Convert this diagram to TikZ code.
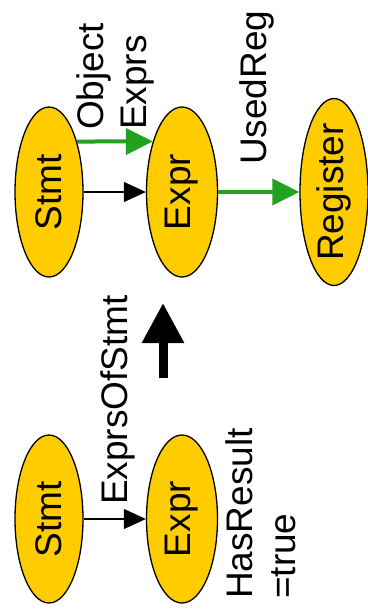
\documentclass[tikz,border=0pt]{standalone}
\usepackage{fontspec}
\setmainfont{Liberation Sans}
\usepackage{graphicx}
\usepackage{tikz}
\usetikzlibrary{arrows.meta,shapes,positioning,shapes.geometric}
\usepackage{xcolor}
\definecolor{gold}{HTML}{FFCC00}
\definecolor{relgreen}{HTML}{22A21E}
\newcommand{\vtxt}[1]{\rotatebox{90}{#1}}
\tikzset{
ent/.style = {ellipse, draw=black, line width=1.3pt, fill=gold, inner sep=-3pt,
minimum width=68pt, minimum height=170pt, font=\fontsize{37}{43}\selectfont},% entite
lbl/.style = {rotate=90, inner sep=0pt, align=left, anchor=base west,
font=\fontsize{37}{43}\selectfont},% etiquette (base = derniere ligne)
rel_k/.style = {black, line width=1.2pt, -{Triangle[length=22pt,width=20pt]}},% relation noire
rel_g/.style = {relgreen, line width=4pt, -{Triangle[length=27pt,width=26pt]}},% relation verte
derive/.style = {black, line width=9pt, -{Triangle[length=40pt,width=40pt]}}% grosse fleche
}
\begin{document}
\begin{tikzpicture}[x=1pt,y=1pt]
  \useasboundingbox (0,0) rectangle (367,-616);
  % haut
  \node [ent] (stmtA) at (49,-192) {\vtxt{Stmt}};
  \node [ent, minimum width=71pt] (exprA) at (182,-192) {\vtxt{Expr}};
  \node [ent, minimum height=187pt] (regA) at (334,-192) {\vtxt{Register}};
  \draw [rel_k] (stmtA) -- (exprA);
  \draw [rel_g] (stmtA.61) -- (exprA.120);
  \draw [rel_g] (exprA) -- (regA);
  \node [lbl] (objLbl) at (146,-130) {Object\\Exprs};
  \node [lbl] (usedLbl) at (266,-165) {UsedReg};
  % fleche
  \coordinate (upFrom) at (163,-378);
  \coordinate (upTo) at (163,-303);
  \draw [derive] (upFrom) -- (upTo);
  % bas
  \node [ent, minimum height=168pt] (stmtB) at (49,-519) {\vtxt{Stmt}};
  \node [ent, minimum width=71pt, minimum height=168pt] (exprB) at (182,-519) {\vtxt{Expr}};
  \draw [rel_k] (stmtB) -- (exprB);
  \node [lbl] (eosLbl) at (127,-505) {ExprsOfStmt};
  \node [lbl] (hasLbl) at (295,-599) {HasResult\\=true};
\end{tikzpicture}
\end{document}
